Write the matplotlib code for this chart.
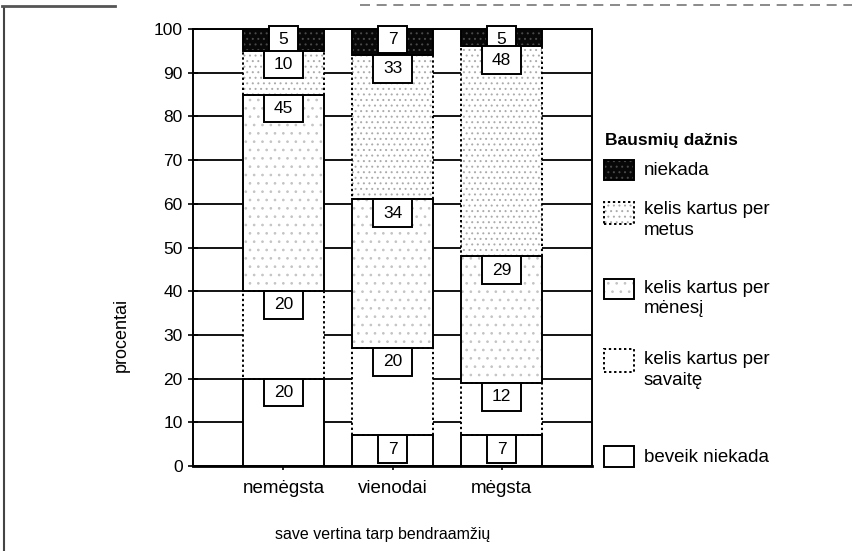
import matplotlib
matplotlib.use('Agg')
import matplotlib.pyplot as plt
from matplotlib.patches import Rectangle
from matplotlib.lines import Line2D
import numpy as np

plt.rcParams['font.family'] = ['Liberation Sans', 'DejaVu Sans']
plt.rcParams['hatch.linewidth'] = 0.7

# ---- data ----
categories = ['nemėgsta', 'vienodai', 'mėgsta']
series_names = ['beveik niekada', 'kelis kartus per\nsavaitę', 'kelis kartus per\nmėnesį',
                'kelis kartus per\nmetus', 'niekada']
beveik_niekada = [20, 7, 7]
per_savaite = [20, 20, 12]
per_menesi = [45, 34, 29]
per_metus = [10, 33, 48]
niekada = [5, 7, 5]
yticks = list(range(0, 101, 10))
legend_title = 'Bausmių dažnis'
xlabel = 'save vertina tarp bendraamžių'
ylabel = 'procentai'

series = [beveik_niekada, per_savaite, per_menesi, per_metus, niekada]

DOT = (0, (1.2, 1.4))
styles = [
    dict(face='white', hatch=None, hcol='white', ls='-'),
    dict(face='white', hatch=None, hcol='white', ls=DOT),
    dict(face='white', hatch='..', hcol='#c4c4c4', ls='-'),
    dict(face='white', hatch='...', hcol='#ababab', ls=DOT),
    dict(face='#080808', hatch='...', hcol='#4a4a4a', ls='-'),
]

W, H = 852, 551
fig = plt.figure(figsize=(W / 100, H / 100), dpi=100)


def fx(p):
    return p / W


def fy(p):
    return 1 - p / H


ax = fig.add_axes([fx(193), fy(466), (592 - 193) / W, (466 - 29) / H])

x = np.arange(1, len(categories) + 1)
width = 0.75
bottom = np.zeros(len(categories))
for vals, st in zip(series, styles):
    vals = np.array(vals, dtype=float)
    ax.bar(x, vals, width, bottom=bottom, color=st['face'], edgecolor=st['hcol'],
           hatch=st['hatch'], linewidth=0, zorder=2)
    ax.bar(x, vals, width, bottom=bottom, fill=False, edgecolor='black',
           linewidth=1.4, linestyle=st['ls'], zorder=3)
    bottom = bottom + vals

# value boxes hanging from the top of each segment
cum = np.zeros(len(categories))
bh = 6.3
n = len(series)
for k, vals in enumerate(series):
    for j, v in enumerate(vals):
        top = min(cum[j] + v, 100)
        if k == n - 1:
            top = 100.8
        w = 0.26 if len(str(v)) == 1 else 0.355
        ax.add_patch(Rectangle((x[j] - w / 2, top - bh), w, bh, facecolor='white',
                               edgecolor='black', linewidth=1.4,
                               zorder=4 + (n - k) * 0.1, clip_on=False))
        ax.text(x[j], top - bh / 2, str(v), ha='center', va='center', fontsize=12.5,
                zorder=4 + (n - k) * 0.1 + 0.05)
    cum = cum + np.array(vals)

ax.set_xlim(1 - 0.83, len(categories) + 0.83)
ax.set_ylim(0, 100)
ax.set_yticks(yticks)
ax.set_yticklabels([str(t) for t in yticks], fontsize=12.5)
ax.set_xticks(x)
ax.set_xticklabels(categories, fontsize=13.5)
ax.yaxis.grid(True, color='black', linewidth=1.3)
ax.set_axisbelow(True)
ax.tick_params(axis='y', direction='inout', length=7, width=1.2, pad=4)
ax.tick_params(axis='x', direction='out', length=3, width=1.2, pad=7)
for s in ax.spines.values():
    s.set_linewidth(1.4)
    s.set_color('black')
ax.spines['bottom'].set_linewidth(2)

fig.text(fx(383), fy(535), xlabel, ha='center', va='center', fontsize=11.5)
fig.text(fx(121), fy(335), ylabel, rotation=90, ha='center', va='center', fontsize=13)

# legend
fig.text(fx(605), fy(140), legend_title, ha='left', va='center', fontsize=12.5,
         fontweight='bold')
leg = [  # (patch top, patch bottom, text centre y)
    (446, 467, 457),
    (349, 372, 370),
    (279, 299, 298.5),
    (202, 224, 220),
    (160, 180, 170),
]
for name, st, (pt, pb, ty) in zip(series_names, styles, leg):
    r0 = Rectangle((fx(604), fy(pb)), 30 / W, (pb - pt) / H, transform=fig.transFigure,
                   facecolor=st['face'], edgecolor=st['hcol'], hatch=st['hatch'],
                   linewidth=0)
    r1 = Rectangle((fx(604), fy(pb)), 30 / W, (pb - pt) / H, transform=fig.transFigure,
                   fill=False, edgecolor='black', linewidth=1.4, linestyle=st['ls'])
    fig.add_artist(r0)
    fig.add_artist(r1)
    fig.text(fx(644), fy(ty), name, ha='left', va='center', fontsize=13.5,
             linespacing=1.25)

# partial frame of the scanned page
fig.add_artist(Line2D([fx(4), fx(4)], [fy(7), fy(551)], transform=fig.transFigure,
                      color='#444444', linewidth=1.5))
fig.add_artist(Line2D([fx(2), fx(115)], [fy(6), fy(6)], transform=fig.transFigure,
                      color='#555555', linewidth=2))
fig.add_artist(Line2D([fx(360), fx(852)], [fy(5), fy(5)], transform=fig.transFigure,
                      color='#777777', linewidth=1.2, linestyle=(0, (6, 4))))

fig.savefig('out.png', dpi=100)
